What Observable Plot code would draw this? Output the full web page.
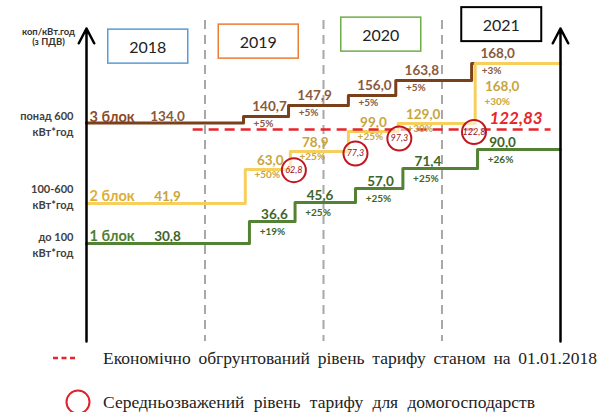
<!DOCTYPE html>
<html><head><meta charset="utf-8">
<script src="https://cdn.jsdelivr.net/npm/d3@7"></script>
<script src="https://cdn.jsdelivr.net/npm/@observablehq/plot@0.6"></script>
<style>
body{margin:0;background:#fff;width:600px;height:412px;overflow:hidden;font-family:Lato,sans-serif}
#chart svg{display:block}
#legend{position:relative;height:67px;font-family:"Liberation Serif","Times New Roman",serif;font-size:17.5px;color:#222}
#legend .row{position:absolute;left:0;display:flex;align-items:center;white-space:nowrap}
</style></head><body>
<div id="chart"></div>
<div id="legend">
  <div class="row" style="top:0;height:26px">
    <svg width="103" height="26"><line x1="53" x2="75" y1="13" y2="13" stroke="#e8262a" stroke-width="2.5" stroke-dasharray="5,3.5"/></svg>
    <span id="leg1">Економічно обгрунтований рівень тарифу станом на 01.01.2018</span>
  </div>
  <div class="row" style="top:26px;height:62px">
    <svg width="103" height="62"><circle cx="78" cy="31" r="11.5" fill="none" stroke="#e0202a" stroke-width="2"/></svg>
    <span id="leg2">Середньозважений рівень тарифу для домогосподарств</span>
  </div>
</div>
<script>
// ---------- DATA ----------
const years = [2018, 2019, 2020, 2021];
const blockNames = ["1 блок", "2 блок", "3 блок"];
const blockRanges = ["до 100\nкВт*год", "100-600\nкВт*год", "понад 600\nкВт*год"];
const axisTitle = "коп/кВт.год\n(з ПДВ)";

const greenDates  = [2018, 2019.375, 2019.76, 2020.27, 2020.67, 2021.30];
const greenValues = [30.8, 36.6, 45.6, 57.0, 71.4, 90.0];
const greenPct    = [null, 19, 25, 25, 25, 26];

const yellowDates  = [2018, 2019.34, 2019.72, 2020.21, 2020.63, 2021.28];
const yellowValues = [41.9, 63.0, 78.9, 99.0, 129.0, 168.0];
const yellowPct    = [null, 50, 25, 25, 30, 30];

const brownDates  = [2018, 2019.325, 2019.705, 2020.21, 2020.61, 2021.25];
const brownValues = [134.0, 140.7, 147.9, 156.0, 163.8, 168.0];
const brownPct    = [null, 5, 5, 5, 5, 3];

const avgDates  = [2019.75, 2020.27, 2020.64, 2021.27];
const avgValues = [62.8, 77.3, 97.3, 122.8];

const econValue = 122.83;
const econFrom = 2018.9, econTo = 2021.92;
const periodEnd = 2022;

// ---------- SCHEMATIC (non-linear) TARIFF SCALE ----------
const yKnots = [0, 30.8, 36.6, 41.9, 45.6, 57, 63, 71.4, 77.3, 78.9, 90, 97.3, 99, 122.8, 122.83, 129, 134, 140.7, 147.9, 156, 163.8, 168, 190];
const yPix   = [341, 243, 221, 203, 202, 188, 169, 168, 153, 151, 149, 138, 131, 131.5, 129, 123, 122.5, 116, 105, 95, 80, 63, 28];

const fmt1 = v => d3.format(".1f")(v).replace(".", ",");
const fmt2 = v => d3.format(".2f")(v).replace(".", ",");
const FONT = "Lato, 'Open Sans', sans-serif";

const series = [
  {i: 0, dates: greenDates, values: greenValues, pct: greenPct, line: "#548235", text: "#3e6529", name: "#4f7f30",
   vdx: 25, vdy: -7, pdx: 23, pdy: 10, below: false},
  {i: 1, dates: brownDates, values: brownValues, pct: brownPct, line: "#7a401c", text: "#8a5a3c", name: "#8b4a2b",
   vdx: 26, vdy: -10, pdx: 20, pdy: 7, below: false},
  {i: 2, dates: yellowDates, values: yellowValues, pct: yellowPct, line: "#f6cf5d", text: "#c9a53c", name: "#dcae35",
   vdx: 25, vdy: -9, pdx: 22, pdy: 5, below: true}
];
const blockIdx = [0, 2, 1];

const marks = [];
marks.push(Plot.ruleX(years.slice(1), {stroke: "#a8a8a8", strokeWidth: 2, strokeDasharray: "9,6"}));

for (const s of series) {
  const pts = s.dates.map((d, k) => ({date: d, value: s.values[k], pct: s.pct[k]}));
  const linePts = pts.concat([{date: periodEnd, value: pts[pts.length - 1].value}]);
  marks.push(Plot.line(linePts, {x: "date", y: "value", curve: "step-after", stroke: s.line, strokeWidth: 3}));
}

marks.push(Plot.ruleY([econValue], {y: d => d, x1: () => econFrom, x2: () => econTo,
  stroke: "#e8262a", strokeWidth: 2.5, strokeDasharray: "10,6"}));
marks.push(Plot.text([econValue], {x: () => econTo, y: d => d, dx: -35, dy: -11, text: d => fmt2(d),
  fill: "#e8262a", fontWeight: "bold", fontStyle: "italic", fontSize: 17, fontFamily: FONT}));

for (const s of series) {
  const pts = s.dates.map((d, k) => ({date: d, value: s.values[k], pct: s.pct[k], k}));
  const first = pts[0];
  const bi = blockIdx[s.i];
  const steps = pts.slice(1);
  const last = steps[steps.length - 1];
  const above = s.below ? steps.slice(0, -1) : steps;
  marks.push(Plot.text(above, {x: "date", y: "value", dx: s.vdx, dy: s.vdy, text: d => fmt1(d.value),
    fill: s.text, fontWeight: "bold", fontSize: 13.5, fontFamily: FONT}));
  marks.push(Plot.text(above, {x: "date", y: "value", dx: s.pdx, dy: s.pdy, text: d => "+" + d.pct + "%",
    fill: s.text, fontWeight: "bold", fontSize: 10, fontFamily: FONT}));
  if (s.below) {
    marks.push(Plot.text([last], {x: "date", y: "value", dx: 27, dy: 23, text: d => fmt1(d.value),
      fill: s.text, fontWeight: "bold", fontSize: 13.5, fontFamily: FONT}));
    marks.push(Plot.text([last], {x: "date", y: "value", dx: 22, dy: 38, text: d => "+" + d.pct + "%",
      fill: s.text, fontWeight: "bold", fontSize: 10, fontFamily: FONT}));
  }
  const firstDy = [-7, -6, -7][s.i];
  marks.push(Plot.text([first], {x: "date", y: "value", dx: 81, dy: firstDy, text: d => fmt1(d.value),
    fill: s.text, fontWeight: "bold", fontSize: 13.5, fontFamily: FONT}));
  marks.push(Plot.text([first], {x: "date", y: "value", dx: 3, dy: firstDy, text: () => blockNames[bi],
    textAnchor: "start", fill: s.name, fontWeight: "bold", fontSize: 14.5, fontFamily: FONT}));
  const catDy = [0, 0, -8][s.i];
  marks.push(Plot.text([first], {x: "date", y: "value", dx: -13, dy: catDy, text: () => blockRanges[bi],
    textAnchor: "end", lineHeight: 1.45, fill: "#404040", fontWeight: "bold", fontSize: 11, fontFamily: FONT}));
}

const avg = avgDates.map((d, k) => ({date: d, value: avgValues[k]}));
marks.push(Plot.dot(avg, {x: "date", y: "value", r: 12, stroke: "#c0161f", strokeWidth: 2, fill: "white", fillOpacity: 0.55}));
marks.push(Plot.text(avg, {x: "date", y: "value", text: d => fmt1(d.value), fill: "#a01018",
  fontStyle: "italic", fontSize: 9, fontFamily: FONT}));

marks.push(Plot.arrow([years[0], periodEnd], {x1: d => d, x2: d => d, y1: () => 0, y2: () => 190,
  stroke: "#000", strokeWidth: 2.5, headLength: 10, headAngle: 55}));

marks.push(Plot.text([axisTitle], {x: () => years[0], dx: -38, frameAnchor: "top", lineAnchor: "middle", dy: 16, text: d => d,
  lineHeight: 1.1, fill: "#333", fontWeight: "bold", fontSize: 9.5, fontFamily: FONT}));

const yearDy = [27, 22, 15, 5];
const yearDx = [2, -6, -2, 0];
years.forEach((yr, i) => {
  marks.push(Plot.text([yr], {x: d => d + 0.5, dx: yearDx[i], frameAnchor: "top", lineAnchor: "middle", dy: yearDy[i],
    text: d => String(d), fill: "#222", fontSize: 16, fontFamily: FONT}));
});

const chart = Plot.plot({
  width: 600, height: 345,
  marginLeft: 86, marginRight: 40, marginTop: 20, marginBottom: 4,
  style: {fontFamily: FONT, background: "white"},
  x: {domain: [years[0], periodEnd], axis: null},
  y: {type: "linear", domain: yKnots, range: yPix, axis: null},
  marks
});
document.getElementById("chart").append(chart);

// year boxes around the year labels
const boxColors = ["#5b9bd5", "#ed7d31", "#70ad47", "#000000"];
const sr = chart.getBoundingClientRect();
const allTexts = Array.from(chart.querySelectorAll("text"));
years.forEach((yr, i) => {
  const t = allTexts.find(el => el.textContent.trim() === String(yr));
  if (!t) return;
  const r = t.getBoundingClientRect();
  const cx = r.left + r.width / 2 - sr.left, cy = r.top + r.height / 2 - sr.top;
  d3.select(chart).append("rect")
    .attr("x", cx - 40).attr("y", cy - 17).attr("width", 80).attr("height", 34)
    .attr("fill", "none").attr("stroke", boxColors[i]).attr("stroke-width", i === 3 ? 2 : 1.5);
});

// justify legend texts to the reference widths
function justify(id, right) {
  const el = document.getElementById(id);
  const r = el.getBoundingClientRect();
  const spaces = (el.textContent.match(/ /g) || []).length;
  if (spaces) el.style.wordSpacing = Math.max(0, (right - r.right) / spaces) + "px";
}
justify("leg1", 597);
justify("leg2", 535);
</script>
</body></html>
